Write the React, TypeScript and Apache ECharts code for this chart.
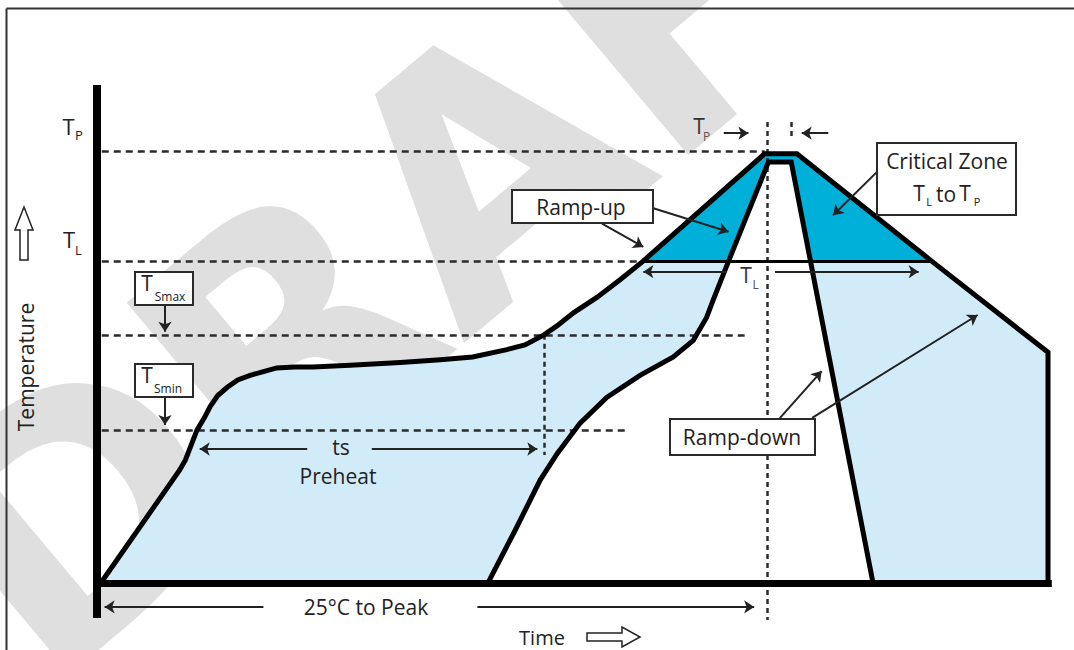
import React, { useEffect, useRef } from "react";
import * as echarts from "echarts";

// ---- Data (time: 0–100 units, temperature: schematic °C units) ----
const outerTime = [0.4, 8.7, 9.3, 9.9, 10.5, 11.3, 11.9, 12.7, 13.7, 14.8, 16.1, 17.5, 18.9, 20.8, 22.7, 26.6, 31.9, 36.1, 39.5, 43.1, 45.0, 47.0, 48.4, 50.1, 52.6, 55.0, 57.4, 70.2, 73.6, 87.8, 100, 100];
const outerTemp = [25, 86.5, 92, 100, 108, 115, 121, 127, 131.5, 135.5, 138, 140, 142, 142.5, 142.5, 143.5, 145, 146.5, 148, 152, 154.5, 160, 165, 172, 180.5, 190, 200, 258.5, 258.5, 200, 150.5, 25];

const innerTime = [41.1, 44.0, 46.6, 48.4, 50.8, 53.6, 57.1, 60.6, 62.7, 64.1, 64.8, 66.4, 70.6, 73.0, 81.6];
const innerTemp = [25, 54, 81, 95.5, 112, 126, 138, 148, 157, 169.5, 179, 200, 254, 254, 25];

const criticalTime = [57.4, 70.2, 73.6, 87.8];
const criticalTemp = [200, 258.5, 258.5, 200];

const levelNames = ["TP", "TL", "Tsmax", "Tsmin"];
const levelTemps = [260, 200, 160, 108.3];
const levelEndTime = [70.2, 57.4, 68.1, 55.5];

const markerTime = [47.0, 70.45, 72.98];
const markerTop = [160, 275.8, 275.8];
const markerBottom = [94.7, 4.9, 266];

const arrowFrom = [
  [22.1, 97.9], [28.9, 97.9], [66.2, 194.4], [71.3, 194.4], [65.9, 269.7], [76.9, 269.7],
  [17.5, 12], [40.0, 12], [7.15, 176.3], [7.15, 126.4], [58.5, 228.9], [53.1, 220.5],
  [82.05, 248.8], [71.8, 114.7], [75.2, 114.9],
];
const arrowTo = [
  [10.8, 97.9], [46.3, 97.9], [57.45, 194.4], [86.4, 194.4], [68.5, 269.7], [74.1, 269.7],
  [0.8, 12], [69.1, 12], [7.15, 161.7], [7.15, 111.0], [66.4, 216.1], [57.45, 207.8],
  [77.4, 225.1], [76.2, 140.3], [92.6, 170.8],
];

const FONT = '"Open Sans", "Noto Sans", sans-serif';
const INK = "#222";

const zip = (a: number[], b: number[]) => a.map((v, i) => [v, b[i]]);

export default function App() {
  const ref = useRef<HTMLDivElement>(null);

  useEffect(() => {
    if (!ref.current) return;
    const chart = echarts.init(ref.current, undefined, { renderer: "svg" });

    const outerPts = zip(outerTime, outerTemp);
    const innerPts = zip(innerTime, innerTemp);
    const critPts = zip(criticalTime, criticalTemp);

    const txt = (text: string, x: number, y: number, size: number, extra: any = {}) => ({
      type: "text",
      x,
      y,
      z: 60,
      silent: true,
      ...extra,
      style: {
        text,
        fontSize: size,
        fontFamily: FONT,
        fill: INK,
        textAlign: "center",
        textVerticalAlign: "middle",
        align: "center",
        verticalAlign: "middle",
        ...(extra.style || {}),
      },
    });
    const box = (x: number, y: number, w: number, h: number) => ({
      type: "rect",
      z: 50,
      silent: true,
      shape: { x, y, width: w, height: h },
      style: { fill: "#fff", stroke: "#2a2a2a", lineWidth: 2 },
    });

    const option: any = {
      animation: false,
      grid: { left: 97, right: 26, top: 77.5, bottom: 21 },
      xAxis: { type: "value", min: 0, max: 100, show: false },
      yAxis: { type: "value", min: 0, max: 300, show: false },
      graphic: {
        elements: [
          {
            type: "text",
            x: 457,
            y: 195,
            rotation: (40 * Math.PI) / 180,
            z: 0,
            silent: true,
            style: {
              text: "DRAFT",
              fontSize: 340,
              fontWeight: "bold",
              fontFamily: '"DejaVu Sans", sans-serif',
              fill: "#dfdfdf",
              textAlign: "center",
              textVerticalAlign: "middle",
              align: "center",
              verticalAlign: "middle",
            },
          },
          { type: "line", z: 40, silent: true, shape: { x1: 6.5, y1: 8.5, x2: 1074, y2: 8.5 }, style: { stroke: "#333", lineWidth: 2 } },
          { type: "line", z: 40, silent: true, shape: { x1: 6.5, y1: 8.5, x2: 6.5, y2: 650 }, style: { stroke: "#333", lineWidth: 2 } },
          // boxes
          box(512, 190, 141, 33),
          box(877, 143, 139, 72),
          box(670, 419, 145, 36),
          box(135, 272, 58, 33),
          box(135, 364, 58, 33),
          // hollow arrows
          {
            type: "polygon", z: 50, silent: true,
            shape: { points: [[24, 207], [33, 230], [28, 230], [28, 260], [20, 260], [20, 230], [15, 230]] },
            style: { fill: "#fff", stroke: INK, lineWidth: 1.5 },
          },
          {
            type: "polygon", z: 50, silent: true,
            shape: { points: [[587, 633], [622, 633], [622, 627], [640, 637], [622, 647], [622, 641], [587, 641]] },
            style: { fill: "#fff", stroke: INK, lineWidth: 1.5 },
          },
          // texts
          txt("Ramp-up", 581, 207, 21),
          txt("Critical Zone", 947, 161, 21),
          txt("T", 919, 193, 21),
          txt("L", 929, 201, 11),
          txt("to", 946, 194, 21),
          txt("T", 965, 193, 21),
          txt("P", 977, 201, 11),
          txt("Ramp-down", 742, 437, 21),
          txt("T", 147, 283, 21),
          txt("Smax", 170, 296, 12),
          txt("T", 147, 375, 21),
          txt("Smin", 168, 388, 12),
          txt("T", 68.5, 126, 22),
          txt("P", 79, 135, 13),
          txt("T", 69, 239, 22),
          txt("L", 78.5, 250, 13),
          txt("T", 699, 126, 21, { style: { fill: "#333" } }),
          txt("P", 706.5, 136, 12, { style: { fill: "#555" } }),
          txt("T", 746, 275, 21, { style: { fill: "#333" } }),
          txt("L", 755.5, 284, 12, { style: { fill: "#555" } }),
          txt("ts", 341, 447, 21),
          txt("Preheat", 338, 476, 21),
          txt("25°C to Peak", 366, 607, 21),
          txt("Time", 542, 637, 20),
          txt("Temperature", 26, 367, 21, { rotation: Math.PI / 2 }),
        ],
      },
      series: [
        {
          type: "custom",
          name: "zones",
          coordinateSystem: "cartesian2d",
          z: 1,
          silent: true,
          clip: false,
          data: [[0, 0]],
          renderItem: (_params: any, api: any) => {
            const poly = (pts: number[][], fill: string) => ({
              type: "polygon",
              shape: { points: pts.map((p) => api.coord(p)) },
              style: { fill },
            });
            return {
              type: "group",
              children: [
                poly(outerPts, "#d2ebf9"),
                poly(critPts, "#00b0d8"),
                poly(innerPts, "#ffffff"),
              ],
            };
          },
        },
        {
          type: "lines",
          name: "levels",
          coordinateSystem: "cartesian2d",
          z: 3,
          silent: true,
          lineStyle: { color: "#2b2b2b", width: 2.5, type: [7, 5], opacity: 1 },
          data: levelNames.map((n, i) => ({ name: n, coords: [[0.5, levelTemps[i]], [levelEndTime[i], levelTemps[i]]] })),
        },
        {
          type: "lines",
          name: "markers",
          coordinateSystem: "cartesian2d",
          z: 3,
          silent: true,
          lineStyle: { color: "#2b2b2b", width: 2.5, type: [5, 4], opacity: 1 },
          data: markerTime.map((t, i) => ({ coords: [[t, markerTop[i]], [t, markerBottom[i]]] })),
        },
        {
          type: "lines",
          name: "TL boundary",
          coordinateSystem: "cartesian2d",
          z: 4,
          silent: true,
          lineStyle: { color: "#000", width: 3, opacity: 1 },
          data: [{ coords: [[criticalTime[0], criticalTemp[0]], [criticalTime[3], criticalTemp[3]]] }],
        },
        {
          type: "line",
          name: "outer",
          z: 5,
          silent: true,
          clip: false,
          symbol: "none",
          lineStyle: { color: "#000", width: 5, join: "miter" },
          data: outerPts,
        },
        {
          type: "line",
          name: "inner",
          z: 5,
          silent: true,
          clip: false,
          symbol: "none",
          lineStyle: { color: "#000", width: 5, join: "miter" },
          data: innerPts,
        },
        {
          type: "lines",
          name: "axes",
          coordinateSystem: "cartesian2d",
          z: 6,
          silent: true,
          lineStyle: { color: "#000", width: 8, opacity: 1 },
          data: [{ coords: [[0, 295.9], [0, 6]] }],
        },
        {
          type: "lines",
          name: "baseline",
          coordinateSystem: "cartesian2d",
          z: 6,
          silent: true,
          lineStyle: { color: "#000", width: 7, opacity: 1 },
          data: [{ coords: [[0, 25], [100.4, 25]] }],
        },
        {
          type: "lines",
          name: "arrows",
          coordinateSystem: "cartesian2d",
          z: 7,
          silent: true,
          symbol: ["none", "arrow"],
          symbolSize: 10,
          lineStyle: { color: INK, width: 2, opacity: 1 },
          data: arrowFrom.map((f, i) => ({ coords: [f, arrowTo[i]] })),
        },
      ],
    };

    chart.setOption(option);
    return () => chart.dispose();
  }, []);

  return (
    <div
      ref={ref}
      style={{ position: "fixed", left: 0, top: 0, width: 1074, height: 650, background: "#fff" }}
    />
  );
}
